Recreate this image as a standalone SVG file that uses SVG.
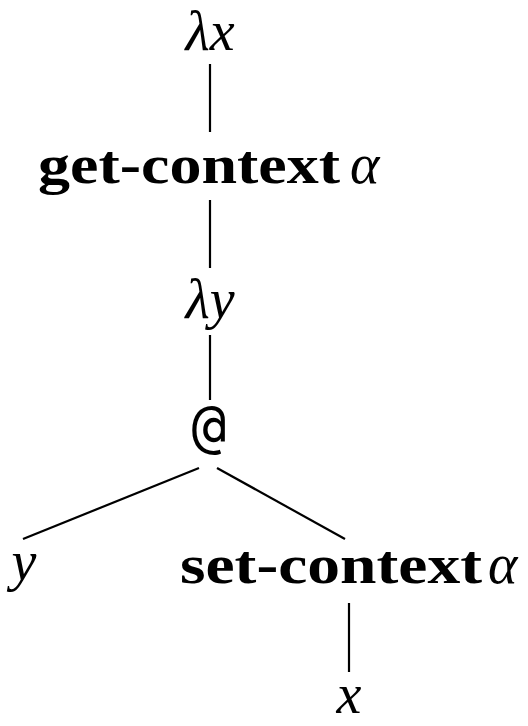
<svg xmlns="http://www.w3.org/2000/svg" width="528" height="726" viewBox="0 0 528 726">
<style>
.m{font-family:"Liberation Serif",serif;font-style:italic;font-size:56px;fill:#000}
.b{font-family:"Liberation Serif",serif;font-weight:bold;font-size:55px;fill:#000}
.t{font-family:"DejaVu Sans Mono",monospace;font-size:58px;fill:#000}
.e{stroke:#000;stroke-width:2.2;fill:none}
</style>
<rect width="528" height="726" fill="#fff"/>
<g id="edges">
<line class="e" x1="210" y1="64" x2="210" y2="132"/>
<line class="e" x1="210" y1="200" x2="210" y2="268"/>
<line class="e" x1="210" y1="335" x2="210" y2="400"/>
<line class="e" x1="199" y1="468" x2="23" y2="539"/>
<line class="e" x1="217" y1="468" x2="345" y2="539"/>
<line class="e" x1="349" y1="603" x2="349" y2="672"/>
</g>
<g id="n1"><text class="m" x="210" y="50" text-anchor="middle">λx</text></g>
<g id="n2"><text class="b" x="38" y="183" textLength="302" lengthAdjust="spacingAndGlyphs">get-context</text><text class="m" x="350" y="183">α</text></g>
<g id="n3"><text class="m" x="210" y="318" text-anchor="middle">λy</text></g>
<g id="n4"><text class="t" x="209" y="446" text-anchor="middle">@</text></g>
<g id="n5"><text class="m" x="24" y="580" text-anchor="middle">y</text></g>
<g id="n6"><text class="b" x="180" y="583" textLength="302" lengthAdjust="spacingAndGlyphs">set-context</text><text class="m" x="488" y="583">α</text></g>
<g id="n7"><text class="m" x="349" y="713" text-anchor="middle">x</text></g>
</svg>
